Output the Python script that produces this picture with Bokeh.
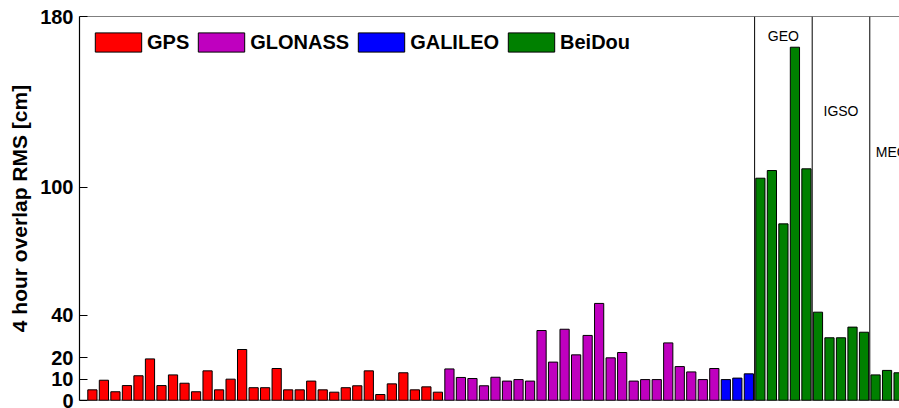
from bokeh.plotting import figure
from bokeh.models import FixedTicker, Span
from bokeh.core.properties import value
from bokeh.embed import file_html
from bokeh.resources import INLINE

# ---- data ----
gps = [5.0, 9.5, 4.1, 7.0, 11.6, 19.5, 7.0, 12.0, 8.1, 4.1, 13.9, 5.0, 10.0, 23.9, 6.0, 6.0,
       15.0, 5.0, 5.0, 9.1, 5.0, 3.9, 6.0, 6.9, 13.9, 2.8, 7.8, 13.0, 5.0, 6.4, 3.9]
glonass = [14.8, 10.8, 10.3, 6.9, 10.9, 9.1, 9.8, 9.1, 32.8, 18.0, 33.4, 21.4, 30.5, 45.5,
           20.0, 22.5, 9.1, 9.8, 9.8, 27.0, 15.9, 13.4, 9.8, 15.0]
galileo = [9.8, 10.5, 12.5]
beidou = [104.2, 107.8, 82.8, 165.6, 108.6, 41.4, 29.4, 29.4, 34.4, 32.0, 12.0, 14.1, 13.0]
beidou_groups = ["GEO", "GEO", "GEO", "GEO", "GEO", "IGSO", "IGSO", "IGSO", "IGSO", "IGSO",
                 "MEO", "MEO", "MEO"]
orbit_labels = ["GEO", "IGSO", "MEO"]
orbit_label_y = [171, 135.5, 116.7]
y_ticks = [0, 10, 20, 40, 100, 180]

systems = [("GPS", gps, "#FF0000"), ("GLONASS", glonass, "#BF00BF"),
           ("GALILEO", galileo, "#0000FF"), ("BeiDou", beidou, "#008000")]

FONT = "Liberation Sans"

p = figure(width=899, height=408, output_backend="svg", toolbar_location=None,
           x_range=(-0.12, 71.08), y_range=(0, 180),
           min_border_left=79, min_border_right=0, min_border_top=16, min_border_bottom=8)

start = 1
for name, vals, col in systems:
    xs = list(range(start, start + len(vals)))
    p.vbar(x=xs, top=vals, width=0.8, bottom=0, fill_color=col, line_color="black",
           line_width=1, legend_label=name)
    start += len(vals)

bd_start = 1 + len(gps) + len(glonass) + len(galileo)
# separators between BeiDou orbit groups
bounds = [bd_start - 0.5]
for i in range(1, len(beidou_groups)):
    if beidou_groups[i] != beidou_groups[i - 1]:
        bounds.append(bd_start + i - 0.5)
for b in bounds:
    p.add_layout(Span(location=b, dimension="height", line_color="black", line_width=1))

# orbit labels centered on each group
lab_x = []
for g in orbit_labels:
    idx = [bd_start + i for i, gg in enumerate(beidou_groups) if gg == g]
    lab_x.append(sum(idx) / len(idx))
lab_x[-1] = lab_x[-1] + 0.4
p.text(x=lab_x, y=orbit_label_y, text=orbit_labels, text_font=value(FONT),
       text_font_size="14px", text_align="center", text_baseline="middle", text_color="black")

# frame lines
p.add_layout(Span(location=180, dimension="width", line_color="black", line_width=1))
p.add_layout(Span(location=0, dimension="width", line_color="black", line_width=1.5))
p.outline_line_color = None
p.xaxis.visible = False
p.grid.visible = False

ax = p.yaxis[0]
ax.ticker = FixedTicker(ticks=y_ticks)
ax.major_tick_in = 8
ax.major_tick_out = 0
ax.minor_tick_line_color = None
ax.axis_line_color = "black"
ax.axis_line_width = 1.2
ax.major_tick_line_color = "black"
ax.major_label_standoff = 6
ax.major_label_text_font = FONT
ax.major_label_text_font_style = "bold"
ax.major_label_text_font_size = "20px"
ax.major_label_text_color = "black"
ax.axis_label = "4 hour overlap RMS [cm]"
ax.axis_label_text_font = FONT
ax.axis_label_text_font_style = "bold"
ax.axis_label_text_font_size = "21px"
ax.axis_label_text_color = "black"
ax.axis_label_standoff = 6

lg = p.legend[0]
lg.location = (10, 346)
lg.orientation = "horizontal"
lg.margin = 0
lg.padding = 0
lg.spacing = 3
lg.glyph_width = 58
lg.glyph_height = 24
lg.label_standoff = 0
lg.label_text_font = FONT
lg.label_text_font_style = "bold"
lg.label_text_font_size = "20px"
lg.label_text_color = "black"
lg.background_fill_alpha = 0
lg.border_line_color = None

open("out.html", "w").write(file_html(p, INLINE))
